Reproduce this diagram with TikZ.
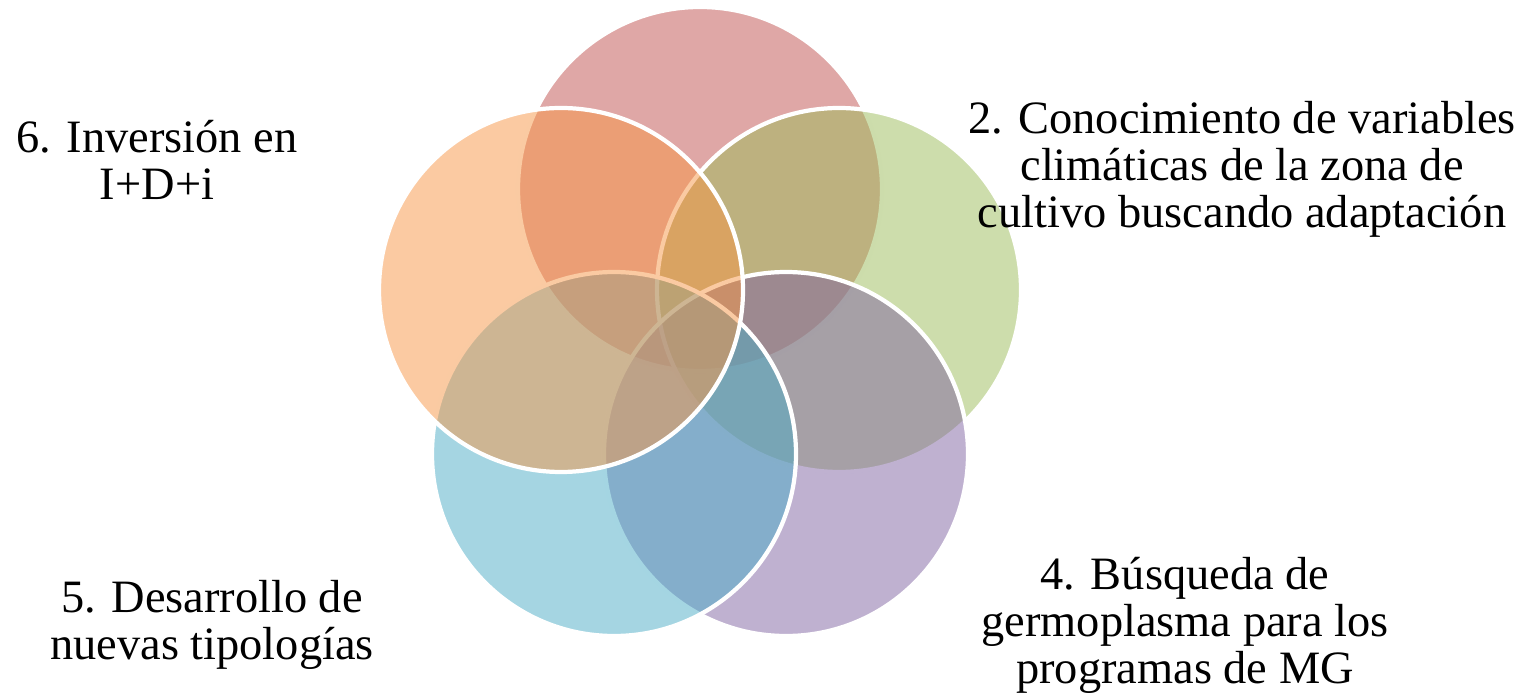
\documentclass[tikz,border=0pt]{standalone}
\usepackage{fontspec}
\setmainfont{Liberation Serif}
\usepackage{tikz}
\usepackage{xcolor}

\definecolor{petalred}{HTML}{C0504D}
\definecolor{petalgreen}{HTML}{9BBB59}
\definecolor{petalpurple}{HTML}{8064A2}
\definecolor{petalblue}{HTML}{4BACC6}
\definecolor{petalorange}{HTML}{F79646}

\begin{document}
\begin{tikzpicture}[
        petal/.style={draw=white, line width=1.2pt, circle, minimum size=3.64cm, inner sep=0pt, outer sep=0pt, fill opacity=0.5},
        itemtext/.style={align=center, inner sep=0pt, font=\fontsize{13.2}{13.4}\selectfont}
    ]
        \useasboundingbox (0,0) rectangle (15.22,6.93);

        \node (c1) at ( 7.00, 5.04) [petal, fill=petalred]    {};
        \node (c2) at ( 8.39, 4.03) [petal, fill=petalgreen]  {};
        \node (c3) at ( 7.86, 2.39) [petal, fill=petalpurple] {};
        \node (c4) at ( 6.14, 2.39) [petal, fill=petalblue]   {};
        \node (c5) at ( 5.61, 4.03) [petal, fill=petalorange] {};

        \node (t2) at (12.42, 5.24) [itemtext] {2. Conocimiento de variables\\climáticas de la zona de\\cultivo buscando adaptación};
        \node (t4) at (11.85, 0.68) [itemtext] {4. Búsqueda de\\germoplasma para los\\programas de MG};
        \node (t5) at ( 2.12, 0.68) [itemtext] {5. Desarrollo de\\nuevas tipologías};
        \node (t6) at ( 1.57, 5.33) [itemtext] {6. Inversión en\\I+D+i};
    \end{tikzpicture}
\end{document}
